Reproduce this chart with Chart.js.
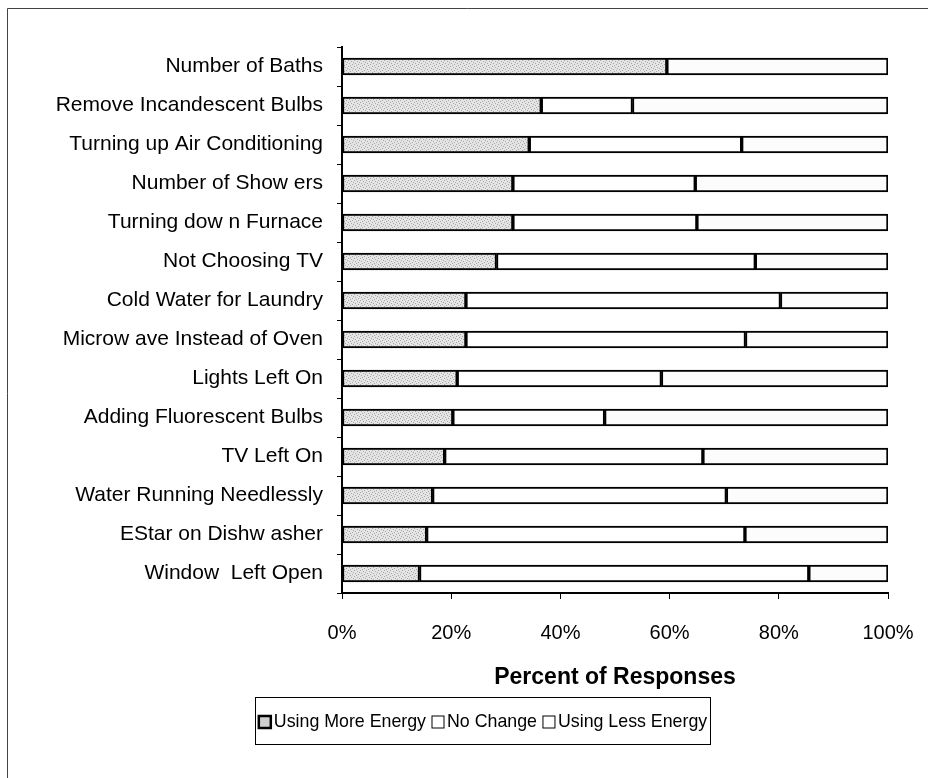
<!DOCTYPE html>
<html><head><meta charset="utf-8">
<script src="https://cdn.jsdelivr.net/npm/chart.js@4.4.0/dist/chart.umd.min.js"></script>
<style>html,body{margin:0;padding:0;background:#fff;}#wrap{position:relative;width:928px;height:778px;}</style>
</head><body><div id="wrap"><canvas id="c" width="928" height="778"></canvas></div>
<script>
const categories = [
  'Number of Baths',
  'Remove Incandescent Bulbs',
  'Turning up Air Conditioning',
  'Number of Show ers',
  'Turning dow n Furnace',
  'Not Choosing TV',
  'Cold Water for Laundry',
  'Microw ave Instead of Oven',
  'Lights Left On',
  'Adding Fluorescent Bulbs',
  'TV Left On',
  'Water Running Needlessly',
  'EStar on Dishw asher',
  'Window  Left Open'
];
const usingMore = [59.5, 36.5, 34.3, 31.3, 31.3, 28.3, 22.7, 22.7, 21.1, 20.3, 18.8, 16.6, 15.5, 14.2];
const noChange  = [0.0, 16.7, 38.9, 33.4, 33.7, 47.4, 57.6, 51.2, 37.4, 27.8, 47.3, 53.8, 58.3, 71.3];
const usingLess = [40.5, 46.8, 26.8, 35.3, 35.0, 24.3, 19.7, 26.1, 41.5, 51.9, 33.9, 29.6, 26.2, 14.5];
const seriesNames = ['Using More Energy', 'No Change', 'Using Less Energy'];
const axisTitle = 'Percent of Responses';

const FONT = '"Liberation Sans", Arial, sans-serif';
Chart.defaults.font.family = FONT;
Chart.defaults.color = '#000';

function stipple(base, dot) {
  const c = document.createElement('canvas');
  c.width = 6; c.height = 6;
  const g = c.getContext('2d');
  g.fillStyle = base; g.fillRect(0, 0, 6, 6);
  g.fillStyle = dot;
  [[0,0],[3,1],[1,3],[4,4],[2,5],[5,2]].forEach(p => g.fillRect(p[0], p[1], 1, 1));
  return g.createPattern(c, 'repeat');
}
const moreFill = stipple('#e4e4e4', '#a8a8a8');
const fills = [moreFill, '#ffffff', '#fcfcfc'];

const framePlugin = {
  id: 'frame',
  beforeDraw(chart) {
    const ctx = chart.ctx;
    ctx.save();
    ctx.fillStyle = '#fff';
    ctx.fillRect(0, 0, chart.width, chart.height);
    ctx.strokeStyle = '#444';
    ctx.lineWidth = 1;
    ctx.beginPath();
    ctx.moveTo(7.5, 778); ctx.lineTo(7.5, 8.5); ctx.lineTo(928, 8.5);
    ctx.stroke();
    ctx.restore();
  }
};

const legendPlugin = {
  id: 'boxLegend',
  afterDraw(chart) {
    const ctx = chart.ctx;
    ctx.save();
    const bx = 255.5, by = 697.5, bw = 455, bh = 47;
    ctx.strokeStyle = '#000'; ctx.lineWidth = 1;
    ctx.strokeRect(bx, by, bw, bh);
    ctx.font = '17.8px ' + FONT;
    ctx.textBaseline = 'middle';
    ctx.textAlign = 'left';
    const cy = by + bh / 2;
    const s = 12, gapA = 3, gapB = 6;
    let total = 0;
    chart.data.datasets.forEach((ds, i) => {
      total += s + gapA + ctx.measureText(ds.label).width + (i < 2 ? gapB : 0);
    });
    let x = bx + (bw - total) / 2;
    chart.data.datasets.forEach((ds, i) => {
      ctx.fillStyle = i === 0 ? '#cfcfcf' : '#fff';
      ctx.fillRect(x, cy - s / 2 + 1, s, s);
      ctx.strokeStyle = '#000';
      ctx.lineWidth = i === 0 ? 2.5 : 1;
      ctx.strokeRect(x, cy - s / 2 + 1, s, s);
      x += s + gapA;
      ctx.fillStyle = '#000';
      ctx.fillText(ds.label, x, cy + 1);
      x += ctx.measureText(ds.label).width + gapB;
    });
    ctx.restore();
  }
};

new Chart(document.getElementById('c'), {
  type: 'bar',
  data: {
    labels: categories,
    datasets: [usingMore, noChange, usingLess].map((d, i) => ({
      label: seriesNames[i],
      data: d,
      backgroundColor: fills[i],
      borderColor: '#000',
      borderWidth: 2,
      borderSkipped: false,
      barThickness: 17
    }))
  },
  options: {
    indexAxis: 'y',
    responsive: false,
    animation: false,
    layout: { padding: { left: 0, top: 47, right: 40, bottom: 87 } },
    plugins: { legend: { display: false }, tooltip: { enabled: false } },
    scales: {
      x: {
        stacked: true, min: 0, max: 100,
        ticks: { stepSize: 20, callback: v => v + '%', font: { size: 20 }, padding: 22, maxRotation: 0 },
        grid: { drawOnChartArea: false, drawTicks: true, tickLength: 6, color: '#000', lineWidth: 1 },
        border: { display: true, color: '#000', width: 2 },
        title: { display: true, text: axisTitle, font: { size: 23, weight: 'bold' }, padding: { top: 0, bottom: 0 } },
        afterFit(s) { s.height = 98; s.paddingRight = 0; s.paddingLeft = 0; }
      },
      y: {
        stacked: true,
        ticks: { font: { size: 21 }, padding: 14, autoSkip: false },
        grid: { drawOnChartArea: false, drawTicks: true, tickLength: 5, color: '#000', offset: true },
        border: { display: true, color: '#000', width: 2 },
        afterFit(s) { s.width = 342; s.paddingTop = 0; s.paddingBottom = 0; }
      }
    }
  },
  plugins: [framePlugin, legendPlugin]
});
</script></body></html>
